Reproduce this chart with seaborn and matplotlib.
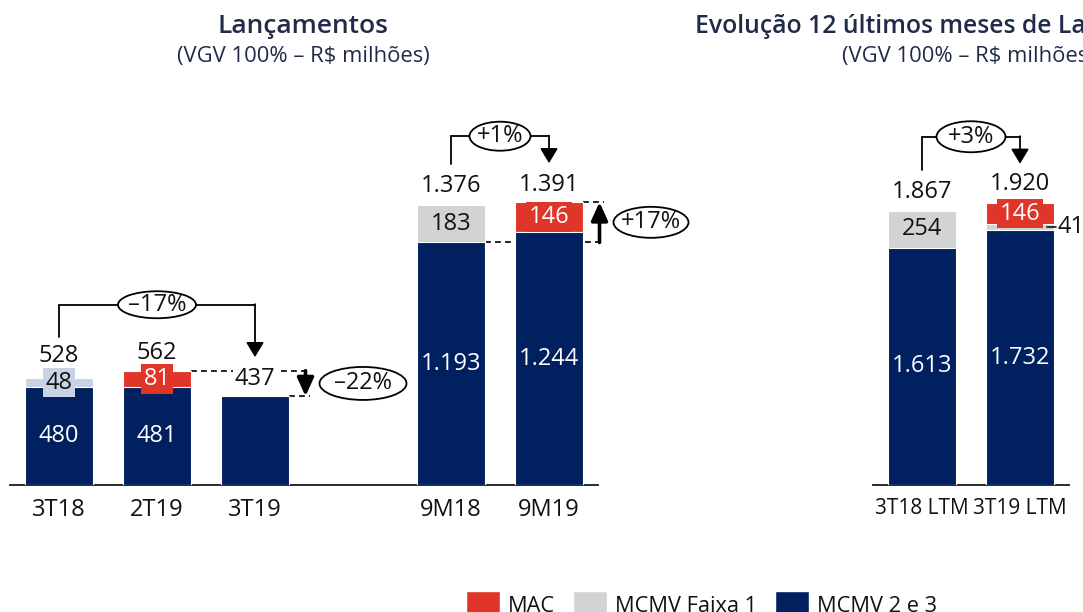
import matplotlib
matplotlib.use("Agg")
import matplotlib.pyplot as plt
from matplotlib import font_manager as fm
from matplotlib.patches import Ellipse, Patch
import numpy as np
import pandas as pd
import seaborn as sns

# ---------------- data ----------------
q_cats = ['3T18', '2T19', '3T19', '9M18', '9M19']
q_mcmv23 = [480, 481, 437, 1193, 1244]
q_faixa1 = [48, 0, 0, 183, 1]
q_mac = [0, 81, 0, 0, 146]
q_totals = [528, 562, 437, 1376, 1391]

ltm_cats = ['3T18 LTM', '3T19 LTM']
ltm_mcmv23 = [1613, 1732]
ltm_faixa1 = [254, 41]
ltm_mac = [0, 146]
ltm_totals = [1867, 1920]

var_labels = ['–17%', '–22%', '+1%', '+17%', '+3%']
legend_labels = ['MAC', 'MCMV Faixa 1', 'MCMV 2 e 3']
title_left = 'Lançamentos'
title_right = 'Evolução 12 últimos meses de Lançamentos'
subtitle = '(VGV 100% – R$ milhões)'

# ---------------- style ----------------
sns.set_style('white')
avail = {f.name for f in fm.fontManager.ttflist}
NARROW = 'Liberation Sans Narrow' if 'Liberation Sans Narrow' in avail else 'Open Sans'
TITLE_FONT = 'Open Sans' if 'Open Sans' in avail else 'DejaVu Sans'
plt.rcParams['font.family'] = [NARROW, 'DejaVu Sans']

RED = '#E0362A'
GRAY = '#D1D3D4'
GRAY_Q = '#C9D3E5'
NAVY = '#002060'
TXT = '#111111'
TITLE_C = '#1F2B48'
FS = 17

FIG_W, FIG_H = 1083, 612
BASE_PX, TOP_PX = 485, 85
AX_H = BASE_PX - TOP_PX
UNIT_X = 98
BAR_W = 68 / UNIT_X

fig = plt.figure(figsize=(FIG_W / 100, FIG_H / 100), dpi=100)
axL = fig.add_axes([10 / FIG_W, (FIG_H - BASE_PX) / FIG_H, 6 * UNIT_X / FIG_W, AX_H / FIG_H])
axR = fig.add_axes([873 / FIG_W, (FIG_H - BASE_PX) / FIG_H, 2 * UNIT_X / FIG_W, AX_H / FIG_H])

order_L = ['3T18', '2T19', '3T19', ' ', '9M18', '9M19']
order_R = ltm_cats


def fmt(v):
    return f"{v:,}".replace(',', '.')


def dy(ax, px):
    return px * ax.get_ylim()[1] / AX_H


def dx(px):
    return px / UNIT_X


def stacked(ax, cats, order, mcmv, faixa, mac, faixa_pal, ymax, tick_fs):
    df = pd.DataFrame({'cat': cats, 'mcmv': mcmv, 'faixa': faixa, 'mac': mac})
    df['lvl2'] = df['mcmv'] + df['faixa']
    df['lvl3'] = df['lvl2'] + df['mac']
    kw = dict(x='cat', order=order, hue='cat', width=BAR_W, ax=ax, edgecolor='white',
              linewidth=0.8, legend=False, saturation=1, errorbar=None)
    d3 = df[df['mac'] > 0]
    if len(d3):
        sns.barplot(data=d3, y='lvl3', palette={c: RED for c in d3['cat']}, **kw)
    d2 = df[df['faixa'] > 0]
    if len(d2):
        sns.barplot(data=d2, y='lvl2', palette={c: faixa_pal[c] for c in d2['cat']}, **kw)
    sns.barplot(data=df, y='mcmv', palette={c: NAVY for c in df['cat']}, **kw)
    for p in ax.patches:
        p.set_zorder(3)
    ax.set_ylim(0, ymax)
    ax.set_xlim(-0.5, len(order) - 0.5)
    ax.set_xlabel('')
    ax.set_ylabel('')
    ax.set_yticks([])
    for s in ['left', 'right', 'top']:
        ax.spines[s].set_visible(False)
    ax.spines['bottom'].set_color('#1a1a1a')
    ax.spines['bottom'].set_linewidth(1.3)
    ax.tick_params(axis='x', length=0, pad=9, labelsize=tick_fs, labelcolor=TXT)
    pos = {c: order.index(c) for c in cats}
    # inner labels
    for _, r in df.iterrows():
        x = pos[r['cat']]
        if r['lvl3'] > r['mcmv']:
            ax.text(x, r['mcmv'] / 2, fmt(r['mcmv']), ha='center', va='center', color='white',
                    fontsize=FS, zorder=5)
        faixa_px = r['faixa'] * AX_H / ymax
        if r['faixa'] > 1 and not (r['mac'] > 0 and faixa_px < 15):
            ax.text(x, r['mcmv'] + r['faixa'] / 2, fmt(r['faixa']), ha='center', va='center',
                    color=TXT, fontsize=FS, zorder=5,
                    bbox=dict(boxstyle='square,pad=0.12', fc=faixa_pal[r['cat']], ec='none'))
        elif r['faixa'] > 1:
            yv = r['mcmv'] + r['faixa'] / 2
            ax.plot([x + dx(27), x + dx(36)], [yv, yv], color=TXT, lw=1.2,
                    clip_on=False, zorder=5)
            ax.text(x + dx(37), yv, fmt(r['faixa']), ha='left', va='center', color=TXT,
                    fontsize=FS, zorder=5)
        if r['mac'] > 0:
            ax.text(x, r['lvl2'] + r['mac'] / 2, fmt(r['mac']), ha='center', va='center',
                    color='white', fontsize=FS, zorder=5,
                    bbox=dict(boxstyle='square,pad=0.12', fc=RED, ec='none'))
    return pos


faixa_pal_L = {c: (GRAY_Q if c == '3T18' else GRAY) for c in q_cats}
faixa_pal_R = {c: GRAY for c in ltm_cats}
posL = stacked(axL, q_cats, order_L, q_mcmv23, q_faixa1, q_mac, faixa_pal_L, AX_H / 0.2033, FS)
posR = stacked(axR, ltm_cats, order_R, ltm_mcmv23, ltm_faixa1, ltm_mac, faixa_pal_R, AX_H / 0.147, 15)


def totals(ax, cats, pos, tots, pads):
    for c, t, p in zip(cats, tots, pads):
        ax.annotate(fmt(t), xy=(pos[c], t), xytext=(0, p * 0.72), textcoords='offset points',
                    ha='center', va='baseline', fontsize=FS, color=TXT, zorder=2,
                    bbox=dict(boxstyle='square,pad=0.08', fc='white', ec='none'))


totals(axL, q_cats, posL, q_totals, [16, 12, 11, 13, 11])
totals(axR, ltm_cats, posR, ltm_totals, [13, 13])

LW = 1.3


def oval(ax, xc, yc, wpx, hpx, label):
    e = Ellipse((xc, yc), dx(wpx), dy(ax, hpx), fc='white', ec='black', lw=LW,
                zorder=4, clip_on=False)
    ax.add_patch(e)
    ax.text(xc, yc, label, ha='center', va='center', fontsize=FS, color=TXT, zorder=5,
            clip_on=False)


def bracket(ax, pos, cats, tots, i, j, label, wpx, hpx):
    xi, xj = pos[cats[i]], pos[cats[j]]
    top = max(tots[i:j + 1])
    h = top + dy(ax, 66)
    ys = tots[i] + dy(ax, 41)
    yt = tots[j] + dy(ax, 39)
    ax.plot([xi, xi, xj], [ys, h, h], color='black', lw=LW, zorder=2,
            solid_joinstyle='miter', clip_on=False)
    ax.annotate('', xy=(xj, yt), xytext=(xj, h + dy(ax, 0.6)),
                arrowprops=dict(arrowstyle='-|>,head_length=0.45,head_width=0.27',
                                mutation_scale=20, lw=LW, color='black',
                                shrinkA=0, shrinkB=0), zorder=2)
    oval(ax, (xi + xj) / 2, h, wpx, hpx, label)


def step(ax, pos, cats, tots, i_from, i_to, label, wpx, hpx, up):
    xa = pos[cats[i_to]] + 0.5 + dx(1.5)
    xend = xa + dx(4)
    y_from = tots[i_from] if not up else q_mcmv23[i_from]
    y_to = tots[i_to]
    ax.plot([pos[cats[i_from]] + BAR_W / 2, xend], [y_from, y_from], color='black', lw=1.2,
            ls=(0, (3.5, 2.5)), zorder=1, clip_on=False)
    ax.plot([pos[cats[i_to]] + BAR_W / 2, xend], [y_to, y_to], color='black', lw=1.2,
            ls=(0, (3.5, 2.5)), zorder=1, clip_on=False)
    ax.annotate('', xy=(xa, y_to), xytext=(xa, y_from),
                arrowprops=dict(arrowstyle='-|>,head_length=0.55,head_width=0.25',
                                mutation_scale=20, lw=2.6, color='black',
                                shrinkA=0, shrinkB=0), zorder=2, annotation_clip=False)
    xc = xa + dx(14 + wpx / 2)
    oval(ax, xc, (y_from + y_to) / 2, wpx, hpx, label)


bracket(axL, posL, q_cats, q_totals, 0, 2, var_labels[0], 78, 27)
step(axL, posL, q_cats, q_totals, 1, 2, var_labels[1], 87, 33, up=False)
bracket(axL, posL, q_cats, q_totals, 3, 4, var_labels[2], 61, 29)
step(axL, posL, q_cats, q_totals, 3, 4, var_labels[3], 75, 31, up=True)
bracket(axR, posR, ltm_cats, ltm_totals, 0, 1, var_labels[4], 69, 31)

# titles
fig.text(303.5 / FIG_W, 1 - 33 / FIG_H, title_left, ha='center', va='baseline',
         fontsize=19, fontweight='semibold', color=TITLE_C, family=TITLE_FONT)
fig.text(303.5 / FIG_W, 1 - 62 / FIG_H, subtitle, ha='center', va='baseline',
         fontsize=15.8, color=TITLE_C, family=TITLE_FONT)
fig.text(695 / FIG_W, 1 - 33 / FIG_H, title_right, ha='left', va='baseline',
         fontsize=17.8, fontweight='semibold', color=TITLE_C, family=TITLE_FONT)
fig.text(842 / FIG_W, 1 - 62 / FIG_H, subtitle, ha='left', va='baseline',
         fontsize=15.8, color=TITLE_C, family=TITLE_FONT)

# legend
LFS = 15.7
handles = [Patch(facecolor=RED), Patch(facecolor=GRAY), Patch(facecolor=NAVY)]
fig.legend(handles, legend_labels, loc='upper left', bbox_to_anchor=(466 / FIG_W, 1 - 591 / FIG_H),
           ncol=3, frameon=False, fontsize=LFS, handlelength=34 / (LFS * 1.389),
           handleheight=34 / (LFS * 1.389), handletextpad=8 / (LFS * 1.389),
           columnspacing=18 / (LFS * 1.389), borderpad=0, borderaxespad=0,
           labelcolor=TXT)

fig.savefig('out.png', dpi=100)
